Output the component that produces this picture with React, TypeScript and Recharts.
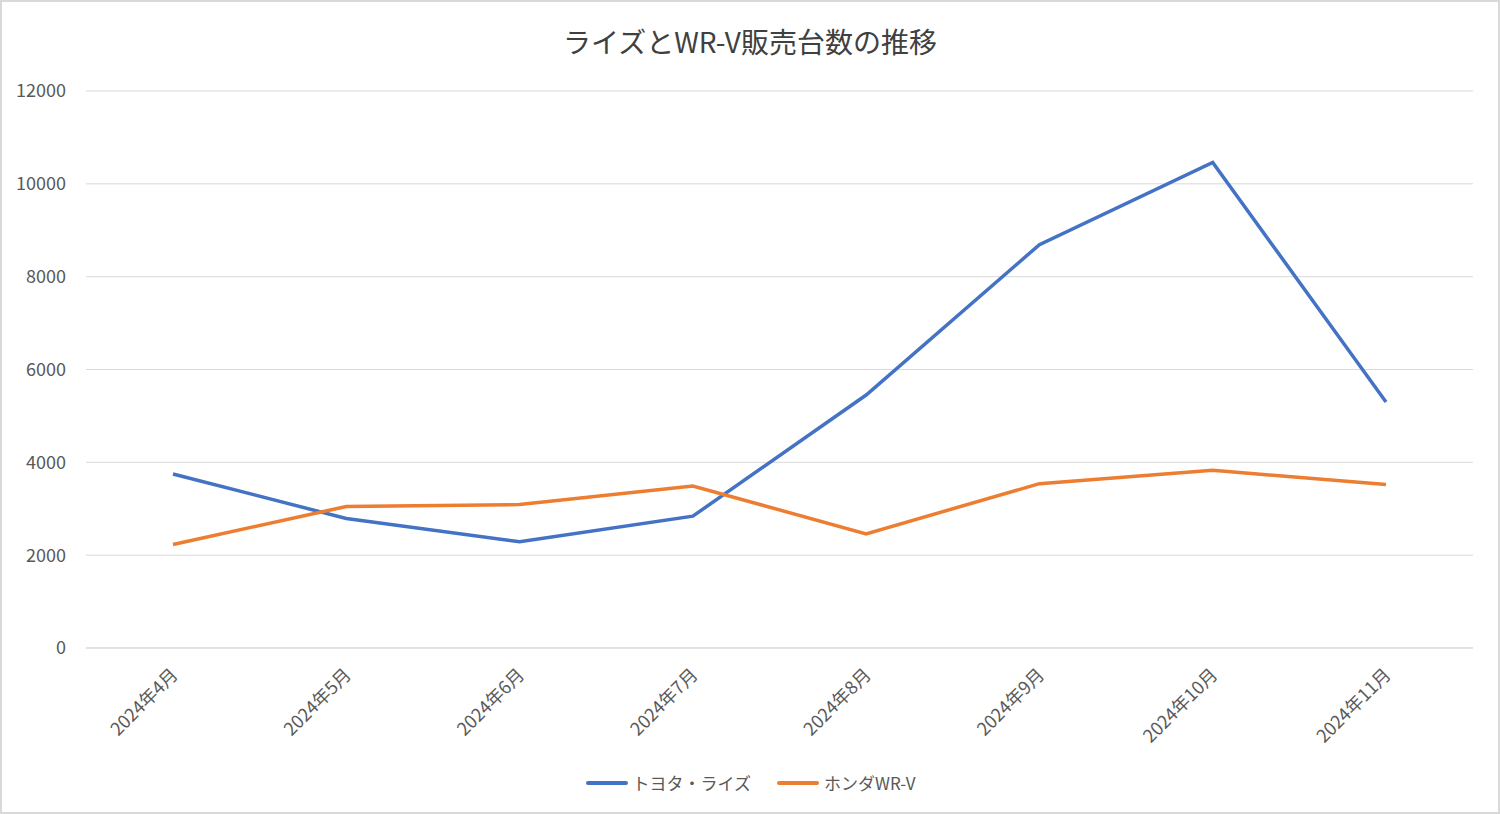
import { CartesianGrid, Legend, Line, LineChart, XAxis, YAxis } from "recharts";

const months = [
  "2024年4月",
  "2024年5月",
  "2024年6月",
  "2024年7月",
  "2024年8月",
  "2024年9月",
  "2024年10月",
  "2024年11月",
];
const raizeSales = [3750, 2790, 2290, 2840, 5450, 8690, 10460, 5300];
const wrvSales = [2230, 3050, 3090, 3490, 2460, 3540, 3830, 3520];
const yTicks = [0, 2000, 4000, 6000, 8000, 10000, 12000];

const seriesNames = { raize: "トヨタ・ライズ", wrv: "ホンダWR-V" };

const data = months.map((month, i) => ({
  month,
  raize: raizeSales[i],
  wrv: wrvSales[i],
}));

const FONT = '"Noto Sans CJK JP", "Noto Sans", sans-serif';

function MonthTick({ x, y, payload }: any) {
  return (
    <g transform={`translate(${x + 6},${y + 20})`}>
      <text
        x={0}
        y={0}
        textAnchor="end"
        transform="rotate(-45)"
        fontSize={18}
        fill="#595959"
        fontFamily={FONT}
      >
        {payload.value}
      </text>
    </g>
  );
}

function ChartLegend({ payload }: any) {
  return (
    <div
      style={{
        display: "flex",
        justifyContent: "center",
        gap: 26,
        paddingLeft: 28,
        fontFamily: FONT,
      }}
    >
      {payload.map((item: any) => (
        <div key={item.value} style={{ display: "flex", alignItems: "center" }}>
          <span
            style={{
              display: "inline-block",
              width: 42,
              height: 4,
              borderRadius: 2,
              background: item.color,
              marginRight: 5,
            }}
          />
          <span style={{ fontSize: 17, color: "#595959" }}>{item.value}</span>
        </div>
      ))}
    </div>
  );
}

export default function App() {
  return (
    <div
      style={{
        position: "absolute",
        left: 0,
        top: 0,
        width: 1500,
        height: 814,
        background: "#fff",
        boxSizing: "border-box",
        border: "2px solid #d9d9d9",
      }}
    >
      <div
        style={{
          position: "absolute",
          left: 0,
          right: 0,
          top: 19,
          textAlign: "center",
          fontFamily: FONT,
          fontSize: 28,
          color: "#404040",
          lineHeight: "40px",
        }}
      >
        ライズとWR-V販売台数の推移
      </div>
      <div style={{ position: "absolute", left: -2, top: -2 }}>
        <LineChart
          width={1500}
          height={814}
          data={data}
          margin={{ top: 91, right: 27, left: 0, bottom: 4 }}
        >
          <CartesianGrid vertical={false} stroke="#d9d9d9" strokeWidth={1} />
          <XAxis
            dataKey="month"
            height={122}
            padding={{ left: 87, right: 87 }}
            tick={<MonthTick />}
            tickLine={false}
            axisLine={{ stroke: "#d9d9d9" }}
            interval={0}
          />
          <YAxis
            width={86}
            domain={[0, 12000]}
            ticks={yTicks}
            tickLine={false}
            axisLine={false}
            tickSize={0}
            tickMargin={20}
            tick={{ fontSize: 18, fill: "#595959", fontFamily: FONT }}
          />
          <Legend verticalAlign="bottom" height={40} content={<ChartLegend />} />
          <Line
            type="linear"
            dataKey="raize"
            name={seriesNames.raize}
            stroke="#4472C4"
            strokeWidth={3.5}
            dot={false}
            isAnimationActive={false}
          />
          <Line
            type="linear"
            dataKey="wrv"
            name={seriesNames.wrv}
            stroke="#ED7D31"
            strokeWidth={3.5}
            dot={false}
            isAnimationActive={false}
          />
        </LineChart>
      </div>
    </div>
  );
}
